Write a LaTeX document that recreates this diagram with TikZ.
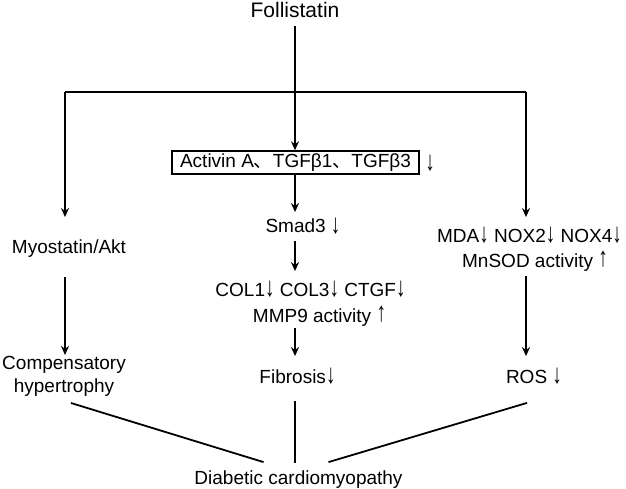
\documentclass[tikz,border=0pt]{standalone}
\usepackage{fontspec}
\setmainfont{Liberation Sans}
\newfontfamily\cjk{Noto Sans CJK SC}
\usetikzlibrary{arrows.meta,positioning,calc}
\newsavebox\arrbox
\newcommand{\tallarrow}[2]{\sbox\arrbox{#1}%
  \raisebox{\dimexpr1.45\dp\arrbox-#2\relax}{\scalebox{1}[1.45]{\usebox\arrbox}}}
\newcommand{\dn}{\tallarrow{↓}{1pt}}
\newcommand{\up}{\tallarrow{↑}{0pt}}

\begin{document}
\begin{tikzpicture}[x=1pt,y=-1pt,line width=1.8pt,>={Stealth[length=9pt,width=8pt]},
    txt/.style={inner sep=0pt,text height=14pt,text depth=4pt,anchor=base,font=\fontsize{19}{23}\selectfont},
    twoline/.style={inner sep=0pt,align=center,font=\fontsize{19}{23}\selectfont},
    frame/.style={draw,line width=1.4pt,inner xsep=6pt,inner ysep=3pt,text height=14pt,text depth=3pt,
                  minimum width=247pt,anchor=base,font=\fontsize{19}{23}\selectfont}]
       \useasboundingbox (0,0) rectangle (626,489);

       \node[txt,font=\fontsize{21}{25}\selectfont,text height=15pt] (fol) at (295,18) {Follistatin};
       \coordinate (split) at (295,92);
       \coordinate (lbar) at (65,92);
       \coordinate (rbar) at (526,92);

       \node[frame] (act) at (295.5,168) {Activin A{\cjk 、}TGFβ1{\cjk 、}TGFβ3};
       \node[txt] (actdn) at (430,170) {\dn};
       \node[txt] (smad) at (303,233) {Smad3 \dn};
       \node[txt] (col) at (310.5,296) {COL1\dn\ COL3\dn\ CTGF\dn};
       \node[txt] (mmp) at (319.5,322) {MMP9 activity \up};
       \node[txt] (fib) at (297.5,383) {Fibrosis\dn};

       \node[txt] (myo) at (69,253) {Myostatin/Akt};
       \node[twoline,anchor=north] (comp) at (64,355) {Compensatory\\hypertrophy};

       \node[txt] (mda) at (529.5,242) {MDA\dn\ NOX2\dn\ NOX4\dn};
       \node[txt] (mnsod) at (535,267) {MnSOD activity \up};
       \node[txt] (ros) at (534,383) {ROS \dn};

       \node[txt] (dcm) at (298.5,484) {Diabetic cardiomyopathy};

       \draw [shorten <=3pt] (fol.south) -- (split);
       \draw (lbar) -- (rbar);
       \draw [->] (split) -- (split |- act.north);
       \draw [->,shorten >=6pt] (split |- act.south) -- (split |- smad.north);
       \draw [->,shorten <=3pt,shorten >=10pt] (split |- smad.south) -- (split |- col.north);
       \draw [->,shorten <=1pt,shorten >=12pt] (split |- mmp.south) -- (split |- fib.north);
       \draw [shorten <=13pt,shorten >=6pt] (split |- fib.south) -- (split |- dcm.north);

       \draw [->,shorten >=21pt] (lbar) -- (lbar |- myo.north);
       \draw [->,shorten <=19pt] (lbar |- myo.south) -- (lbar |- comp.north);

       \draw [->,shorten >=10pt] (rbar) -- (rbar |- mda.north);
       \draw [->,shorten <=4pt,shorten >=12pt] (rbar |- mnsod.south) -- (rbar |- ros.north);

       \draw ($(comp.south)+(7,6)$) -- ($(dcm.north)+(-35,-7)$);
       \draw ($(ros.south)+(-7,15)$) -- ($(dcm.north)+(30,-7)$);
\end{tikzpicture}
\end{document}
